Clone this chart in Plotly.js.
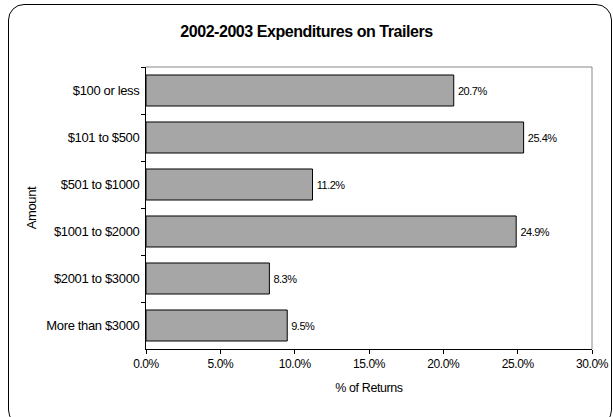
<!DOCTYPE html>
<html>
<head>
<meta charset="utf-8">
<script src="https://cdn.plot.ly/plotly-3.0.1.min.js"></script>
<style>
  html, body { margin: 0; padding: 0; background: #fff; overflow: hidden; }
  #wrap { position: relative; width: 613px; height: 417px; }
  #chart { position: absolute; left: 0; top: 0; width: 613px; height: 417px; }
  #frame { position: absolute; left: 8px; top: 4px; width: 602px; height: 420px;
           border: 1.5px solid #000; border-radius: 16px; pointer-events: none; }
  #chart .gtitle { letter-spacing: -0.45px; }
  #chart .ytick text { letter-spacing: -0.35px; }
  #chart .xtick text { letter-spacing: -0.4px; }
  #chart .xtitle, #chart .ytitle { letter-spacing: -0.4px; }
  #chart .textpoint text, #chart .bartext { letter-spacing: -0.5px; }
</style>
</head>
<body>
<div id="wrap">
  <div id="chart"></div>
  <div id="frame"></div>
</div>
<script>
const categories = ["$100 or less", "$101 to $500", "$501 to $1000", "$1001 to $2000", "$2001 to $3000", "More than $3000"];
const percentReturns = [20.7, 25.4, 11.2, 24.9, 8.3, 9.5];
const xTickValues = [0, 5, 10, 15, 20, 25, 30];
const xTickLabels = ["0.0%", "5.0%", "10.0%", "15.0%", "20.0%", "25.0%", "30.0%"];

const fontFam = "Liberation Sans, Arial, sans-serif";

const trace = {
  type: "bar",
  orientation: "h",
  y: categories,
  x: percentReturns,
  marker: { color: "#a6a6a6", line: { color: "#000", width: 1 } },
  text: percentReturns.map(v => v.toFixed(1) + "%"),
  textposition: "outside",
  textfont: { family: fontFam, size: 11, color: "#000" },
  cliponaxis: false,
  hoverinfo: "none"
};

const layout = {
  width: 613, height: 417,
  margin: { l: 146, r: 21, t: 67, b: 68 },
  paper_bgcolor: "rgba(0,0,0,0)",
  plot_bgcolor: "#fff",
  bargap: 0.34,
  showlegend: false,
  title: {
    text: "<b>2002-2003 Expenditures on Trailers</b>",
    font: { family: fontFam, size: 16, color: "#000" },
    x: 0.5, xanchor: "center", y: 0.925, yanchor: "middle"
  },
  xaxis: {
    range: [0, 30],
    tickvals: xTickValues,
    ticktext: xTickLabels,
    ticks: "outside", ticklen: 4, tickcolor: "#000",
    showline: true, linecolor: "#000", linewidth: 1,
    showgrid: false, zeroline: false,
    tickfont: { family: fontFam, size: 12, color: "#000" },
    title: { text: "% of Returns", font: { family: fontFam, size: 12.5, color: "#000" }, standoff: 12 },
    fixedrange: true
  },
  yaxis: {
    autorange: "reversed",
    type: "category",
    tickson: "boundaries",
    ticks: "outside", ticklen: 4, tickcolor: "#000",
    showline: true, linecolor: "#000", linewidth: 1,
    showgrid: false, zeroline: false,
    tickfont: { family: fontFam, size: 13, color: "#000" },
    ticklabelstandoff: 3,
    title: { text: "Amount", font: { family: fontFam, size: 13, color: "#000" }, standoff: 1 },
    fixedrange: true
  },
  shapes: [
    { type: "line", xref: "paper", yref: "paper", x0: 0, x1: 1, y0: 1, y1: 1, line: { color: "#888", width: 1 } },
    { type: "line", xref: "paper", yref: "paper", x0: 1, x1: 1, y0: 0, y1: 1, line: { color: "#888", width: 1 } }
  ]
};

Plotly.newPlot("chart", [trace], layout, { displayModeBar: false, staticPlot: true });
</script>
</body>
</html>
